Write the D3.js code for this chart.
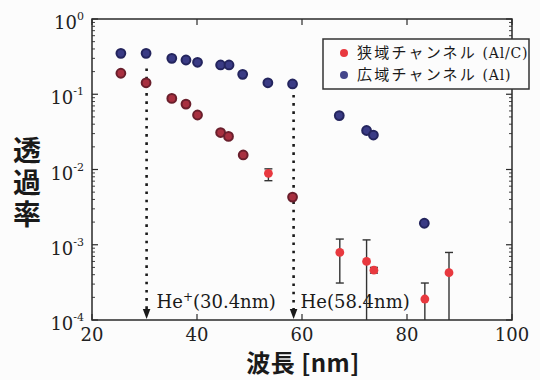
<!DOCTYPE html>
<html><head><meta charset="utf-8">
<script src="https://cdn.jsdelivr.net/npm/d3@7"></script>
<style>body{margin:0;background:#fff;} svg{display:block}</style>
</head><body><svg id="c" width="540" height="380"></svg>
<script>
// ---- data ----
const xTicks = [20, 40, 60, 80, 100];
const yTickExps = [0, -1, -2, -3, -4];

const narrowX  = [25.5, 30.3, 35.2, 37.9, 40.1, 44.5, 46.0, 48.8, 53.6, 58.2, 67.2, 72.3, 73.7, 83.4, 88.0];
const narrowY  = [0.19, 0.142, 0.088, 0.074, 0.053, 0.031, 0.0275, 0.0156, 0.0089, 0.0043, 0.00079, 0.0006, 0.00046, 0.00019, 0.000425];
const narrowLo = [0.18, 0.135, 0.084, 0.070, 0.050, 0.0295, 0.026, 0.0148, 0.0071, 0.0040, 0.00031, 0.00001, 0.00042, 0.00001, 0.00001];
const narrowHi = [0.20, 0.150, 0.092, 0.078, 0.056, 0.0325, 0.029, 0.0164, 0.0102, 0.0046, 0.00119, 0.00116, 0.00050, 0.00031, 0.00079];

const wideX  = [25.5, 30.3, 35.2, 37.9, 40.1, 44.5, 46.1, 48.7, 53.5, 58.2, 67.1, 72.3, 73.6, 83.3];
const wideY  = [0.35, 0.35, 0.30, 0.285, 0.266, 0.245, 0.245, 0.184, 0.142, 0.137, 0.052, 0.033, 0.0287, 0.00193];
const wideLo = [0.33, 0.33, 0.285, 0.27, 0.252, 0.232, 0.232, 0.174, 0.134, 0.129, 0.049, 0.031, 0.027, 0.00182];
const wideHi = [0.37, 0.37, 0.315, 0.30, 0.28, 0.258, 0.258, 0.194, 0.150, 0.145, 0.055, 0.035, 0.0304, 0.00204];

const lineX = [30.4, 58.4];
const lineTop = [0.22, 0.098];
const lineLabelBase = ["He", "He"];
const lineLabelSup = ["+", ""];
const lineLabelRest = ["(30.4nm)", "(58.4nm)"];

const legendJa = ["狭域チャンネル", "広域チャンネル"];
const legendLatin = ["(Al/C)", "(Al)"];
const xTitle = "波長 [nm]";
const yTitle = "透過率";

// ---- layout ----
const svg = d3.select("#c");
const L = 92, R = 512, T = 19, B = 320;
const x = d3.scaleLinear().domain([20, 100]).range([L, R]);
const y = d3.scaleLog().domain([1e-4, 1]).range([B, T]);
const serif = "'DejaVu Serif', serif";
const cjk = "'Noto Sans CJK JP', sans-serif";
const ink = "#2a2a2a";

svg.append("rect").attr("width", 540).attr("height", 380).attr("fill", "#fcfcfc");

svg.append("defs").append("clipPath").attr("id", "clip")
  .append("rect").attr("x", L).attr("y", T).attr("width", R - L).attr("height", B - T);

// frame
svg.append("rect").attr("x", L).attr("y", T).attr("width", R - L).attr("height", B - T)
  .attr("fill", "none").attr("stroke", ink).attr("stroke-width", 1.5);

// ticks
const tg = svg.append("g").attr("stroke", ink).attr("stroke-width", 1.2);
xTicks.forEach(v => {
  tg.append("line").attr("x1", x(v)).attr("x2", x(v)).attr("y1", B).attr("y2", B - 6);
  tg.append("line").attr("x1", x(v)).attr("x2", x(v)).attr("y1", T).attr("y2", T + 6);
});
yTickExps.forEach(e => {
  const v = Math.pow(10, e);
  tg.append("line").attr("x1", L).attr("x2", L + 6).attr("y1", y(v)).attr("y2", y(v));
  tg.append("line").attr("x1", R).attr("x2", R - 6).attr("y1", y(v)).attr("y2", y(v));
  if (e < 0) {
    for (let k = 2; k <= 9; k++) {
      const mv = k * v;
      tg.append("line").attr("x1", L).attr("x2", L + 3).attr("y1", y(mv)).attr("y2", y(mv)).attr("stroke-width", 0.9);
      tg.append("line").attr("x1", R).attr("x2", R - 3).attr("y1", y(mv)).attr("y2", y(mv)).attr("stroke-width", 0.9);
    }
  }
});

// x tick labels
svg.append("g").selectAll("text").data(xTicks).join("text")
  .attr("x", d => x(d)).attr("y", B + 21).attr("text-anchor", "middle")
  .attr("font-family", serif).attr("font-size", 18).attr("fill", "#222").text(d => d);

// y tick labels 10^n
const yl = svg.append("g");
yTickExps.forEach(e => {
  const t = yl.append("text").attr("x", 84).attr("y", y(Math.pow(10, e)) + 10)
    .attr("text-anchor", "end").attr("font-family", serif).attr("font-size", 18).attr("fill", "#222");
  t.append("tspan").text("10");
  t.append("tspan").attr("dy", -9).attr("font-size", 11).text(e === 0 ? "0" : "-" + (-e));
});

// axis titles
svg.append("text").attr("x", 303).attr("y", 372).attr("text-anchor", "middle")
  .attr("font-family", cjk).attr("font-weight", 700)
  .attr("font-size", 24).attr("letter-spacing", 0.5).attr("fill", "#1a1a1a").text(xTitle);
svg.append("text").attr("x", 27).attr("y", 136)
  .attr("writing-mode", "vertical-rl").attr("letter-spacing", 4)
  .attr("font-family", cjk).attr("font-weight", 700)
  .attr("font-size", 28).attr("fill", "#1a1a1a").text(yTitle);

// dotted lines with arrowheads
const lg = svg.append("g");
lineX.forEach((v, i) => {
  lg.append("line").attr("x1", x(v)).attr("x2", x(v)).attr("y1", y(lineTop[i])).attr("y2", B - 10)
    .attr("stroke", "#1a1a1a").attr("stroke-width", 2.6).attr("stroke-dasharray", "2.6 5.6");
  lg.append("path")
    .attr("d", `M${x(v) - 3.8},${B - 11} L${x(v) + 3.8},${B - 11} L${x(v)},${B - 1} Z`)
    .attr("fill", "#1a1a1a");
  const t = lg.append("text").attr("x", x(v) + (i === 0 ? 10 : 7)).attr("y", B - 12)
    .attr("font-family", serif).attr("font-size", 18).attr("fill", "#1a1a1a");
  t.append("tspan").text(lineLabelBase[i]);
  if (lineLabelSup[i]) {
    t.append("tspan").attr("dy", -7).attr("font-size", 12).text(lineLabelSup[i]);
    t.append("tspan").attr("dy", 7).text(lineLabelRest[i]);
  } else {
    t.append("tspan").text(lineLabelRest[i]);
  }
});

// series
const plot = svg.append("g").attr("clip-path", "url(#clip)");
function series(xs, ys, lo, hi, fill, darkFill, edge) {
  const d = xs.map((v, i) => ({x: v, y: ys[i], lo: lo[i], hi: hi[i]}));
  const eg = plot.append("g").attr("stroke", "#333").attr("stroke-width", 1.4);
  d.forEach(p => {
    eg.append("line").attr("x1", x(p.x)).attr("x2", x(p.x)).attr("y1", y(p.lo)).attr("y2", y(p.hi));
    eg.append("line").attr("x1", x(p.x) - 4).attr("x2", x(p.x) + 4).attr("y1", y(p.hi)).attr("y2", y(p.hi));
    eg.append("line").attr("x1", x(p.x) - 4).attr("x2", x(p.x) + 4).attr("y1", y(p.lo)).attr("y2", y(p.lo));
  });
  const dark = p => p.hi / p.lo < 1.3 && p.y > 0.001;
  plot.append("g").selectAll("circle").data(d).join("circle")
    .attr("cx", p => x(p.x)).attr("cy", p => y(p.y)).attr("r", 4.4)
    .attr("fill", p => (dark(p) ? darkFill : fill))
    .attr("stroke", p => (dark(p) ? edge : "none"))
    .attr("stroke-width", 2);
}
series(wideX, wideY, wideLo, wideHi, "#33347c", "#3a3b85", "#24255e");
series(narrowX, narrowY, narrowLo, narrowHi, "#e8393f", "#a83040", "#6a1f2c");

// legend
const lgd = svg.append("g");
lgd.append("rect").attr("x", 323).attr("y", 39).attr("width", 206).attr("height", 50)
  .attr("fill", "#fcfcfc").attr("stroke", "#333").attr("stroke-width", 1.5);
const legColors = ["#e8393f", "#44458a"];
legendJa.forEach((s, i) => {
  const cy = 53 + i * 22;
  lgd.append("circle").attr("cx", 344).attr("cy", cy).attr("r", 4).attr("fill", legColors[i]);
  const t = lgd.append("text").attr("x", 357).attr("y", cy + 5).attr("fill", "#1a1a1a");
  t.append("tspan").attr("font-family", cjk).attr("font-size", 15).attr("letter-spacing", 2.2).text(s + " ");
  t.append("tspan").attr("font-family", serif).attr("font-size", 14).attr("letter-spacing", 0.8).text(legendLatin[i]);
});
</script></body></html>
